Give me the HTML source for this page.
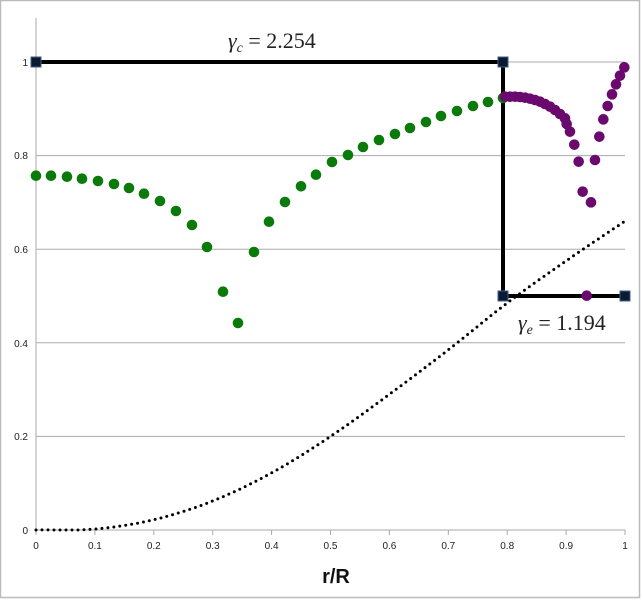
<!DOCTYPE html>
<html><head><style>body{margin:0;background:#fff}svg{display:block}</style></head>
<body>
<svg id="s" width="643" height="600" xmlns="http://www.w3.org/2000/svg" font-family="Liberation Sans, sans-serif">
<rect x="0.5" y="0.5" width="639" height="597" fill="#fff" stroke="#bbb" stroke-width="1.5"/>
<g stroke="#aaa" stroke-width="1">
<line x1="36" y1="62" x2="625" y2="62"/>
<line x1="36" y1="155.6" x2="625" y2="155.6"/>
<line x1="36" y1="249.2" x2="625" y2="249.2"/>
<line x1="36" y1="342.8" x2="625" y2="342.8"/>
<line x1="36" y1="436.4" x2="625" y2="436.4"/>
<line x1="36" y1="530" x2="625" y2="530"/>
<line x1="36" y1="18" x2="36" y2="530"/>
</g>
<g id="ticks" stroke="#aaa"></g>
<g font-size="10" fill="#222" text-anchor="end">
<text x="28" y="66">1</text><text x="28" y="159">0.8</text><text x="28" y="253">0.6</text><text x="28" y="347">0.4</text><text x="28" y="440">0.2</text><text x="28" y="534">0</text>
</g>
<g id="xl" font-size="10" fill="#222" text-anchor="middle"></g>
<text x="336" y="583" font-size="20" font-weight="bold" text-anchor="middle" fill="#111">r/R</text>
<path id="dot" fill="none" stroke="#000" stroke-width="3" stroke-linecap="round" stroke-dasharray="0 6"/>
<g stroke="#000" stroke-width="4" fill="none">
<polyline points="36,62 503,62 503,296 625,296"/>
</g>
<g id="pts"></g>
<g fill="#0b1a2e" stroke="#3a6090" stroke-width="1">
<rect x="31" y="57" width="10" height="10"/><rect x="498" y="57" width="10" height="10"/>
<rect x="498" y="291" width="10" height="10"/><rect x="620" y="291" width="10" height="10"/>
</g>
<text x="228" y="48" font-family="Liberation Serif, serif" font-size="22" fill="#222"><tspan font-style="italic">γ</tspan><tspan font-size="14" font-style="italic" dy="4">c</tspan><tspan dy="-4"> = 2.254</tspan></text>
<text x="518" y="330" font-family="Liberation Serif, serif" font-size="22" fill="#222"><tspan font-style="italic">γ</tspan><tspan font-size="14" font-style="italic" dy="4">e</tspan><tspan dy="-4"> = 1.194</tspan></text>
</svg>
<script>
var ns="http://www.w3.org/2000/svg";
function X(v){return 36+v*589}function Y(v){return 530-v*468}
var t=document.getElementById('ticks'),xl=document.getElementById('xl');
for(var i=0;i<=10;i++){var l=document.createElementNS(ns,'line');l.setAttribute('x1',X(i/10));l.setAttribute('x2',X(i/10));l.setAttribute('y1',530);l.setAttribute('y2',535);t.appendChild(l);
var tx=document.createElementNS(ns,'text');tx.setAttribute('x',X(i/10));tx.setAttribute('y',549);tx.textContent=i==0?'0':i==10?'1':'0.'+i;xl.appendChild(tx);}
var dv=[0,0.002,0.022,0.062,0.122,0.2,0.29,0.385,0.485,0.575,0.66];
function v(j){return j<0?dv[0]-(dv[1]-dv[0]):j>10?2*dv[10]-dv[9]:dv[j];}
var d='';for(var k=0;k<=200;k++){var x=k/200,i2=Math.min(9,Math.floor(x*10)),f=x*10-i2;
var p0=v(i2-1),p1=v(i2),p2=v(i2+1),p3=v(i2+2);
var y=0.5*((2*p1)+(-p0+p2)*f+(2*p0-5*p1+4*p2-p3)*f*f+(-p0+3*p1-3*p2+p3)*f*f*f);
if(y<0)y=0;
d+=(k?'L':'M')+X(x).toFixed(1)+','+Y(y).toFixed(1);}
document.getElementById('dot').setAttribute('d',d);
var g=[[36,175.7],[51,175.7],[67,176.7],[82,178.7],[98,181],[114,184],[129,188],[144,193.7],[160,201],[176,211],[192,225],[207,247],[223,291.7],[238,323],[254,252],[269,221.7],[285,202],[301,186.3],[316,174.7],[332,162],[348,155],[363,147],[379,140],[395,134],[410,128],[426,122],[441,116],[457,111],[473,106],[488,102],[503,98]];
var p=[[75,140],[90,140],[105,140],[120,141],[135,143],[150,146],[165,150],[180,155],[195,162],[210,170],[225,180],[240,192],[255,205],[260,222],[270,245],[283,284],[296,335],[308,425],[333,457],[345,330],[358,260],[370,208],[383,168],[396,133],[408,103],[420,77],[433,52]];
var pts=document.getElementById('pts');
function c(x,y,col){var e=document.createElementNS(ns,'circle');e.setAttribute('cx',x);e.setAttribute('cy',y);e.setAttribute('r',5.3);e.setAttribute('fill',col);pts.appendChild(e);}
g.forEach(function(a){c(a[0],a[1],'#0a7a0a')});
p.forEach(function(a){c(a[0]/3+480,a[1]/3+50,'#6a0a6e')});
c(586.7,295.7,'#6a0a6e');
</script>
</body></html>
